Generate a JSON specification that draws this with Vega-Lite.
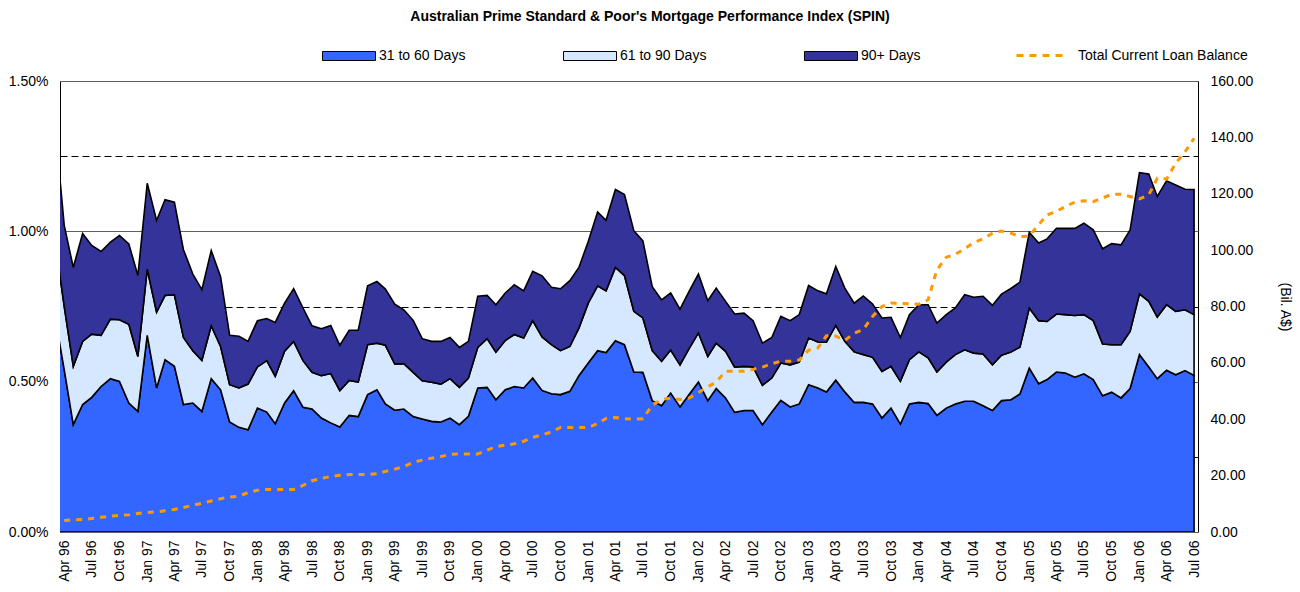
{
  "$schema": "https://vega.github.io/schema/vega-lite/v6.json",
  "width": 1138,
  "height": 451,
  "autosize": {"type": "none"},
  "padding": {"left": 60, "top": 81, "right": 102, "bottom": 60},
  "background": "white",
  "config": {
    "font": "Liberation Sans",
    "view": {"stroke": "black", "strokeWidth": 1},
    "axis": {"labelFont": "Liberation Sans", "labelFontSize": 14, "labelColor": "black", "titleFont": "Liberation Sans", "titleColor": "black"},
    "legend": {"labelFont": "Liberation Sans", "labelFontSize": 14, "labelColor": "black"}
  },
  "title": {"text": "Australian Prime Standard & Poor's Mortgage Performance Index (SPIN)", "font": "Liberation Sans", "fontSize": 14, "fontWeight": "bold", "color": "black", "anchor": "middle", "frame": "group", "dx": 21, "offset": 5},
  "data": {
    "format": {"parse": {"date": "date:'%Y-%m-%d'"}},
    "values": [
      {"date":"1996-03-01","31 to 60 Days":0.72,"61 to 90 Days":0.255,"90+ Days":0.382},
      {"date":"1996-04-01","31 to 60 Days":0.54,"61 to 90 Days":0.21,"90+ Days":0.27,"bal":4.1},
      {"date":"1996-05-01","31 to 60 Days":0.357,"61 to 90 Days":0.194,"90+ Days":0.329,"bal":4.3},
      {"date":"1996-06-01","31 to 60 Days":0.424,"61 to 90 Days":0.21,"90+ Days":0.359,"bal":4.4},
      {"date":"1996-07-01","31 to 60 Days":0.448,"61 to 90 Days":0.21,"90+ Days":0.295,"bal":4.8},
      {"date":"1996-08-01","31 to 60 Days":0.484,"61 to 90 Days":0.17,"90+ Days":0.279,"bal":5.2},
      {"date":"1996-09-01","31 to 60 Days":0.51,"61 to 90 Days":0.198,"90+ Days":0.256,"bal":5.6},
      {"date":"1996-10-01","31 to 60 Days":0.501,"61 to 90 Days":0.205,"90+ Days":0.28,"bal":5.9},
      {"date":"1996-11-01","31 to 60 Days":0.429,"61 to 90 Days":0.262,"90+ Days":0.267,"bal":6.1},
      {"date":"1996-12-01","31 to 60 Days":0.401,"61 to 90 Days":0.183,"90+ Days":0.269,"bal":6.6},
      {"date":"1997-01-01","31 to 60 Days":0.654,"61 to 90 Days":0.22,"90+ Days":0.286,"bal":6.9},
      {"date":"1997-02-01","31 to 60 Days":0.479,"61 to 90 Days":0.252,"90+ Days":0.305,"bal":7.2},
      {"date":"1997-03-01","31 to 60 Days":0.573,"61 to 90 Days":0.214,"90+ Days":0.318,"bal":7.5},
      {"date":"1997-04-01","31 to 60 Days":0.551,"61 to 90 Days":0.238,"90+ Days":0.308,"bal":8.0},
      {"date":"1997-05-01","31 to 60 Days":0.424,"61 to 90 Days":0.223,"90+ Days":0.292,"bal":8.7},
      {"date":"1997-06-01","31 to 60 Days":0.429,"61 to 90 Days":0.174,"90+ Days":0.255,"bal":9.5},
      {"date":"1997-07-01","31 to 60 Days":0.401,"61 to 90 Days":0.17,"90+ Days":0.235,"bal":10.2},
      {"date":"1997-08-01","31 to 60 Days":0.51,"61 to 90 Days":0.176,"90+ Days":0.25,"bal":11.0},
      {"date":"1997-09-01","31 to 60 Days":0.473,"61 to 90 Days":0.144,"90+ Days":0.232,"bal":11.8},
      {"date":"1997-10-01","31 to 60 Days":0.366,"61 to 90 Days":0.124,"90+ Days":0.164,"bal":12.4},
      {"date":"1997-11-01","31 to 60 Days":0.348,"61 to 90 Days":0.131,"90+ Days":0.172,"bal":12.7},
      {"date":"1997-12-01","31 to 60 Days":0.34,"61 to 90 Days":0.152,"90+ Days":0.142,"bal":14.0},
      {"date":"1998-01-01","31 to 60 Days":0.412,"61 to 90 Days":0.137,"90+ Days":0.154,"bal":14.8},
      {"date":"1998-02-01","31 to 60 Days":0.399,"61 to 90 Days":0.171,"90+ Days":0.14,"bal":15.1},
      {"date":"1998-03-01","31 to 60 Days":0.36,"61 to 90 Days":0.158,"90+ Days":0.179,"bal":15.1},
      {"date":"1998-04-01","31 to 60 Days":0.429,"61 to 90 Days":0.172,"90+ Days":0.16,"bal":15.1},
      {"date":"1998-05-01","31 to 60 Days":0.47,"61 to 90 Days":0.164,"90+ Days":0.175,"bal":15.1},
      {"date":"1998-06-01","31 to 60 Days":0.415,"61 to 90 Days":0.155,"90+ Days":0.175,"bal":16.5},
      {"date":"1998-07-01","31 to 60 Days":0.409,"61 to 90 Days":0.122,"90+ Days":0.155,"bal":18.2},
      {"date":"1998-08-01","31 to 60 Days":0.379,"61 to 90 Days":0.141,"90+ Days":0.156,"bal":19.0},
      {"date":"1998-09-01","31 to 60 Days":0.363,"61 to 90 Days":0.164,"90+ Days":0.16,"bal":19.7},
      {"date":"1998-10-01","31 to 60 Days":0.349,"61 to 90 Days":0.121,"90+ Days":0.151,"bal":20.1},
      {"date":"1998-11-01","31 to 60 Days":0.388,"61 to 90 Days":0.116,"90+ Days":0.167,"bal":20.4},
      {"date":"1998-12-01","31 to 60 Days":0.384,"61 to 90 Days":0.115,"90+ Days":0.172,"bal":20.4},
      {"date":"1999-01-01","31 to 60 Days":0.457,"61 to 90 Days":0.166,"90+ Days":0.196,"bal":20.4},
      {"date":"1999-02-01","31 to 60 Days":0.473,"61 to 90 Days":0.155,"90+ Days":0.205,"bal":20.7},
      {"date":"1999-03-01","31 to 60 Days":0.426,"61 to 90 Days":0.195,"90+ Days":0.187,"bal":21.5},
      {"date":"1999-04-01","31 to 60 Days":0.405,"61 to 90 Days":0.154,"90+ Days":0.199,"bal":22.3},
      {"date":"1999-05-01","31 to 60 Days":0.409,"61 to 90 Days":0.151,"90+ Days":0.179,"bal":23.2},
      {"date":"1999-06-01","31 to 60 Days":0.384,"61 to 90 Days":0.147,"90+ Days":0.173,"bal":24.7},
      {"date":"1999-07-01","31 to 60 Days":0.376,"61 to 90 Days":0.127,"90+ Days":0.14,"bal":25.5},
      {"date":"1999-08-01","31 to 60 Days":0.368,"61 to 90 Days":0.13,"90+ Days":0.136,"bal":26.2},
      {"date":"1999-09-01","31 to 60 Days":0.366,"61 to 90 Days":0.126,"90+ Days":0.142,"bal":26.8},
      {"date":"1999-10-01","31 to 60 Days":0.379,"61 to 90 Days":0.131,"90+ Days":0.137,"bal":27.5},
      {"date":"1999-11-01","31 to 60 Days":0.357,"61 to 90 Days":0.124,"90+ Days":0.133,"bal":27.7},
      {"date":"1999-12-01","31 to 60 Days":0.385,"61 to 90 Days":0.127,"90+ Days":0.122,"bal":27.7},
      {"date":"2000-01-01","31 to 60 Days":0.479,"61 to 90 Days":0.135,"90+ Days":0.17,"bal":27.7},
      {"date":"2000-02-01","31 to 60 Days":0.481,"61 to 90 Days":0.162,"90+ Days":0.144,"bal":29.0},
      {"date":"2000-03-01","31 to 60 Days":0.44,"61 to 90 Days":0.158,"90+ Days":0.158,"bal":30.3},
      {"date":"2000-04-01","31 to 60 Days":0.473,"61 to 90 Days":0.164,"90+ Days":0.158,"bal":30.8},
      {"date":"2000-05-01","31 to 60 Days":0.484,"61 to 90 Days":0.173,"90+ Days":0.165,"bal":31.3},
      {"date":"2000-06-01","31 to 60 Days":0.479,"61 to 90 Days":0.166,"90+ Days":0.157,"bal":32.2},
      {"date":"2000-07-01","31 to 60 Days":0.512,"61 to 90 Days":0.191,"90+ Days":0.164,"bal":33.6},
      {"date":"2000-08-01","31 to 60 Days":0.471,"61 to 90 Days":0.178,"90+ Days":0.203,"bal":34.4},
      {"date":"2000-09-01","31 to 60 Days":0.46,"61 to 90 Days":0.163,"90+ Days":0.191,"bal":35.5},
      {"date":"2000-10-01","31 to 60 Days":0.457,"61 to 90 Days":0.146,"90+ Days":0.206,"bal":37.1},
      {"date":"2000-11-01","31 to 60 Days":0.468,"61 to 90 Days":0.149,"90+ Days":0.219,"bal":37.1},
      {"date":"2000-12-01","31 to 60 Days":0.52,"61 to 90 Days":0.158,"90+ Days":0.202,"bal":37.1},
      {"date":"2001-01-01","31 to 60 Days":0.562,"61 to 90 Days":0.199,"90+ Days":0.205,"bal":37.1},
      {"date":"2001-02-01","31 to 60 Days":0.603,"61 to 90 Days":0.216,"90+ Days":0.245,"bal":38.5},
      {"date":"2001-03-01","31 to 60 Days":0.597,"61 to 90 Days":0.205,"90+ Days":0.235,"bal":40.3},
      {"date":"2001-04-01","31 to 60 Days":0.636,"61 to 90 Days":0.244,"90+ Days":0.259,"bal":40.6},
      {"date":"2001-05-01","31 to 60 Days":0.623,"61 to 90 Days":0.23,"90+ Days":0.269,"bal":40.2},
      {"date":"2001-06-01","31 to 60 Days":0.532,"61 to 90 Days":0.202,"90+ Days":0.268,"bal":40.0},
      {"date":"2001-07-01","31 to 60 Days":0.531,"61 to 90 Days":0.181,"90+ Days":0.256,"bal":40.2},
      {"date":"2001-08-01","31 to 60 Days":0.437,"61 to 90 Days":0.166,"90+ Days":0.213,"bal":45.0},
      {"date":"2001-09-01","31 to 60 Days":0.42,"61 to 90 Days":0.148,"90+ Days":0.204,"bal":47.0},
      {"date":"2001-10-01","31 to 60 Days":0.462,"61 to 90 Days":0.143,"90+ Days":0.19,"bal":47.5},
      {"date":"2001-11-01","31 to 60 Days":0.416,"61 to 90 Days":0.14,"90+ Days":0.185,"bal":47.0},
      {"date":"2001-12-01","31 to 60 Days":0.457,"61 to 90 Days":0.153,"90+ Days":0.19,"bal":47.5},
      {"date":"2002-01-01","31 to 60 Days":0.499,"61 to 90 Days":0.163,"90+ Days":0.196,"bal":49.5},
      {"date":"2002-02-01","31 to 60 Days":0.437,"61 to 90 Days":0.147,"90+ Days":0.185,"bal":51.5},
      {"date":"2002-03-01","31 to 60 Days":0.477,"61 to 90 Days":0.151,"90+ Days":0.183,"bal":53.2},
      {"date":"2002-04-01","31 to 60 Days":0.446,"61 to 90 Days":0.155,"90+ Days":0.166,"bal":57.0},
      {"date":"2002-05-01","31 to 60 Days":0.398,"61 to 90 Days":0.15,"90+ Days":0.177,"bal":57.0},
      {"date":"2002-06-01","31 to 60 Days":0.404,"61 to 90 Days":0.147,"90+ Days":0.177,"bal":57.0},
      {"date":"2002-07-01","31 to 60 Days":0.404,"61 to 90 Days":0.145,"90+ Days":0.154,"bal":57.7},
      {"date":"2002-08-01","31 to 60 Days":0.357,"61 to 90 Days":0.131,"90+ Days":0.14,"bal":58.5},
      {"date":"2002-09-01","31 to 60 Days":0.399,"61 to 90 Days":0.113,"90+ Days":0.135,"bal":59.7},
      {"date":"2002-10-01","31 to 60 Days":0.438,"61 to 90 Days":0.124,"90+ Days":0.155,"bal":60.6},
      {"date":"2002-11-01","31 to 60 Days":0.416,"61 to 90 Days":0.14,"90+ Days":0.147,"bal":60.6},
      {"date":"2002-12-01","31 to 60 Days":0.426,"61 to 90 Days":0.139,"90+ Days":0.158,"bal":61.0},
      {"date":"2003-01-01","31 to 60 Days":0.49,"61 to 90 Days":0.155,"90+ Days":0.175,"bal":64.5},
      {"date":"2003-02-01","31 to 60 Days":0.479,"61 to 90 Days":0.153,"90+ Days":0.17,"bal":65.3},
      {"date":"2003-03-01","31 to 60 Days":0.466,"61 to 90 Days":0.165,"90+ Days":0.161,"bal":69.6},
      {"date":"2003-04-01","31 to 60 Days":0.505,"61 to 90 Days":0.182,"90+ Days":0.196,"bal":69.5},
      {"date":"2003-05-01","31 to 60 Days":0.466,"61 to 90 Days":0.168,"90+ Days":0.177,"bal":68.0},
      {"date":"2003-06-01","31 to 60 Days":0.431,"61 to 90 Days":0.168,"90+ Days":0.162,"bal":70.5},
      {"date":"2003-07-01","31 to 60 Days":0.431,"61 to 90 Days":0.159,"90+ Days":0.195,"bal":71.8},
      {"date":"2003-08-01","31 to 60 Days":0.426,"61 to 90 Days":0.155,"90+ Days":0.177,"bal":76.5},
      {"date":"2003-09-01","31 to 60 Days":0.379,"61 to 90 Days":0.155,"90+ Days":0.178,"bal":80.0},
      {"date":"2003-10-01","31 to 60 Days":0.412,"61 to 90 Days":0.139,"90+ Days":0.163,"bal":81.2},
      {"date":"2003-11-01","31 to 60 Days":0.359,"61 to 90 Days":0.142,"90+ Days":0.146,"bal":81.1},
      {"date":"2003-12-01","31 to 60 Days":0.426,"61 to 90 Days":0.147,"90+ Days":0.15,"bal":81.0},
      {"date":"2004-01-01","31 to 60 Days":0.431,"61 to 90 Days":0.168,"90+ Days":0.157,"bal":80.8},
      {"date":"2004-02-01","31 to 60 Days":0.427,"61 to 90 Days":0.152,"90+ Days":0.177,"bal":82.4},
      {"date":"2004-03-01","31 to 60 Days":0.388,"61 to 90 Days":0.144,"90+ Days":0.163,"bal":93.0},
      {"date":"2004-04-01","31 to 60 Days":0.412,"61 to 90 Days":0.153,"90+ Days":0.158,"bal":97.5},
      {"date":"2004-05-01","31 to 60 Days":0.426,"61 to 90 Days":0.164,"90+ Days":0.155,"bal":98.5},
      {"date":"2004-06-01","31 to 60 Days":0.435,"61 to 90 Days":0.171,"90+ Days":0.183,"bal":100.5},
      {"date":"2004-07-01","31 to 60 Days":0.435,"61 to 90 Days":0.16,"90+ Days":0.186,"bal":102.7},
      {"date":"2004-08-01","31 to 60 Days":0.42,"61 to 90 Days":0.172,"90+ Days":0.192,"bal":104.0},
      {"date":"2004-09-01","31 to 60 Days":0.404,"61 to 90 Days":0.152,"90+ Days":0.198,"bal":106.0},
      {"date":"2004-10-01","31 to 60 Days":0.437,"61 to 90 Days":0.151,"90+ Days":0.203,"bal":106.8},
      {"date":"2004-11-01","31 to 60 Days":0.44,"61 to 90 Days":0.159,"90+ Days":0.211,"bal":106.0},
      {"date":"2004-12-01","31 to 60 Days":0.459,"61 to 90 Days":0.156,"90+ Days":0.216,"bal":104.8},
      {"date":"2005-01-01","31 to 60 Days":0.545,"61 to 90 Days":0.2,"90+ Days":0.252,"bal":105.0},
      {"date":"2005-02-01","31 to 60 Days":0.493,"61 to 90 Days":0.21,"90+ Days":0.258,"bal":109.0},
      {"date":"2005-03-01","31 to 60 Days":0.507,"61 to 90 Days":0.193,"90+ Days":0.275,"bal":112.5},
      {"date":"2005-04-01","31 to 60 Days":0.532,"61 to 90 Days":0.193,"90+ Days":0.285,"bal":113.7},
      {"date":"2005-05-01","31 to 60 Days":0.529,"61 to 90 Days":0.194,"90+ Days":0.287,"bal":115.5},
      {"date":"2005-06-01","31 to 60 Days":0.515,"61 to 90 Days":0.205,"90+ Days":0.29,"bal":117.0},
      {"date":"2005-07-01","31 to 60 Days":0.526,"61 to 90 Days":0.197,"90+ Days":0.304,"bal":117.5},
      {"date":"2005-08-01","31 to 60 Days":0.507,"61 to 90 Days":0.196,"90+ Days":0.302,"bal":117.2},
      {"date":"2005-09-01","31 to 60 Days":0.453,"61 to 90 Days":0.172,"90+ Days":0.317,"bal":118.5},
      {"date":"2005-10-01","31 to 60 Days":0.465,"61 to 90 Days":0.158,"90+ Days":0.336,"bal":119.8},
      {"date":"2005-11-01","31 to 60 Days":0.446,"61 to 90 Days":0.177,"90+ Days":0.332,"bal":119.8},
      {"date":"2005-12-01","31 to 60 Days":0.477,"61 to 90 Days":0.19,"90+ Days":0.338,"bal":119.0},
      {"date":"2006-01-01","31 to 60 Days":0.59,"61 to 90 Days":0.202,"90+ Days":0.403,"bal":118.2},
      {"date":"2006-02-01","31 to 60 Days":0.549,"61 to 90 Days":0.218,"90+ Days":0.424,"bal":119.6},
      {"date":"2006-03-01","31 to 60 Days":0.51,"61 to 90 Days":0.205,"90+ Days":0.401,"bal":125.5},
      {"date":"2006-04-01","31 to 60 Days":0.538,"61 to 90 Days":0.218,"90+ Days":0.412,"bal":125.2},
      {"date":"2006-05-01","31 to 60 Days":0.523,"61 to 90 Days":0.211,"90+ Days":0.42,"bal":130.8},
      {"date":"2006-06-01","31 to 60 Days":0.537,"61 to 90 Days":0.202,"90+ Days":0.401,"bal":134.9},
      {"date":"2006-07-01","31 to 60 Days":0.521,"61 to 90 Days":0.202,"90+ Days":0.416,"bal":139.7}
    ]
  },
  "encoding": {
    "x": {
      "field": "date", "type": "temporal",
      "scale": {"domain": [{"year": 1996, "month": 3, "date": 18}, {"year": 2006, "month": 7, "date": 14}]},
      "axis": {"format": "%b %y", "tickCount": {"interval": "month", "step": 3}, "labelAngle": -90, "labelPadding": 8, "ticks": false, "domain": false, "grid": false, "title": null, "labelFlush": false, "labelOverlap": false, "labelBound": false}
    }
  },
  "layer": [
    {
      "transform": [{"fold": ["31 to 60 Days", "61 to 90 Days", "90+ Days"], "as": ["series", "pct"]}],
      "mark": {"type": "area", "stroke": "black", "strokeWidth": 1.6, "strokeJoin": "miter", "clip": true, "interpolate": "linear"},
      "encoding": {
        "y": {
          "field": "pct", "type": "quantitative", "stack": "zero",
          "scale": {"domain": [0, 1.5], "nice": false},
          "axis": {"values": [0, 0.25, 0.5, 0.75, 1, 1.25, 1.5], "labelExpr": "datum.value % 0.5 === 0 ? format(datum.value, '.2f') + '%' : ''", "grid": true,
            "gridColor": {"condition": {"test": "datum.value % 0.5 !== 0", "value": "black"}, "value": "#606060"},
            "gridDash": {"condition": {"test": "datum.value % 0.5 !== 0", "value": [7, 4]}, "value": []},
            "gridWidth": 1, "ticks": false, "domain": false, "labelPadding": 12, "title": null}
        },
        "fill": {
          "field": "series", "type": "nominal",
          "scale": {"domain": ["31 to 60 Days", "61 to 90 Days", "90+ Days"], "range": ["#3366FF", "#D5E8FF", "#333399"]},
          "legend": {"orient": "none", "legendX": 262, "legendY": -52, "direction": "horizontal", "title": null, "symbolType": "M-1,-0.17H1V0.17H-1Z", "symbolSize": 2809, "symbolStrokeColor": "black", "symbolStrokeWidth": 1, "symbolOpacity": 1, "labelOffset": 3, "columnPadding": 95}
        },
        "order": {"field": "series", "type": "nominal", "sort": "ascending"}
      }
    },
    {
      "mark": {"type": "line", "stroke": "#FF9900", "strokeWidth": 3, "strokeDash": [6, 6], "clip": true},
      "encoding": {
        "y": {
          "field": "bal", "type": "quantitative",
          "scale": {"domain": [0, 160], "nice": false},
          "axis": {"orient": "right", "values": [0, 20, 40, 60, 80, 100, 120, 140, 160], "format": ".2f", "grid": false, "ticks": false, "domain": false, "labelPadding": 12, "title": "(Bil. A$)", "titleAngle": 90, "titleFontSize": 14, "titleFontWeight": "normal", "titlePadding": 25}
        },
        "stroke": {
          "datum": "Total Current Loan Balance", "type": "nominal",
          "scale": {"domain": ["Total Current Loan Balance"], "range": ["#FF9900"]},
          "legend": {"orient": "none", "legendX": 955, "legendY": -50.5, "title": null, "symbolType": "stroke", "symbolSize": 2209, "symbolStrokeWidth": 3, "symbolDash": [7, 6], "symbolStrokeColor": "#FF9900", "labelOffset": 13, "labelLimit": 400}
        }
      }
    }
  ],
  "resolve": {"scale": {"y": "independent"}}
}
